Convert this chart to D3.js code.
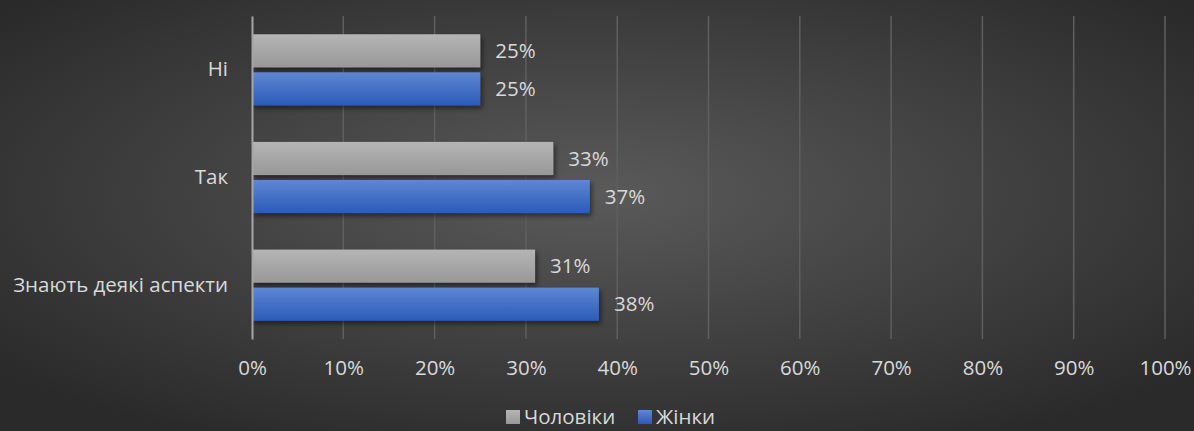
<!DOCTYPE html>
<html>
<head>
<meta charset="utf-8">
<script src="https://cdn.jsdelivr.net/npm/d3@7"></script>
<style>
  html, body { margin: 0; padding: 0; background: #333; }
  svg { display: block; font-family: "Open Sans", sans-serif; }
</style>
</head>
<body>
<svg id="chart" width="1194" height="431"></svg>
<script>
// categories top to bottom
var categories = ["Ні", "Так", "Знають деякі аспекти"];
var seriesNames = ["Чоловіки", "Жінки"];
var men = [0.25, 0.33, 0.31];
var women = [0.25, 0.37, 0.38];
var ticks = [0, 0.1, 0.2, 0.3, 0.4, 0.5, 0.6, 0.7, 0.8, 0.9, 1.0];

var W = 1194, H = 431;
var margin = {top: 16, right: 29, bottom: 92, left: 252};
var width = W - margin.left - margin.right,
  height = H - margin.top - margin.bottom;
var FONT = "'Open Sans', sans-serif";
var FS = "20.5px";
var TXT = "#d9d9d9";

var svg = d3.select("#chart");
var defs = svg.append("defs");

// background
var bg = defs.append("radialGradient").attr("id", "bg")
  .attr("cx", "50%").attr("cy", "45%").attr("r", "65%");
bg.append("stop").attr("offset", "0%").attr("stop-color", "#5a5a5a");
bg.append("stop").attr("offset", "100%").attr("stop-color", "#2a2a2a");
svg.append("rect").attr("width", W).attr("height", H).attr("fill", "url(#bg)");

var gGray = defs.append("linearGradient").attr("id", "gGray")
  .attr("x1", 0).attr("y1", 0).attr("x2", 0).attr("y2", 1);
gGray.append("stop").attr("offset", "0%").attr("stop-color", "#b5b5b5");
gGray.append("stop").attr("offset", "100%").attr("stop-color", "#989898");
var gBlue = defs.append("linearGradient").attr("id", "gBlue")
  .attr("x1", 0).attr("y1", 0).attr("x2", 0).attr("y2", 1);
gBlue.append("stop").attr("offset", "0%").attr("stop-color", "#5e87d3");
gBlue.append("stop").attr("offset", "100%").attr("stop-color", "#2b5bb8");

var shadow = defs.append("filter").attr("id", "shadow")
  .attr("x", "-5%").attr("y", "-20%").attr("width", "115%").attr("height", "160%");
shadow.append("feDropShadow").attr("dx", 2).attr("dy", 3)
  .attr("stdDeviation", 2.5).attr("flood-color", "#000").attr("flood-opacity", 0.5);

var g = svg.append("g").attr("transform", "translate(" + margin.left + "," + margin.top + ")");

var x = d3.scaleLinear().domain([0, 1]).range([0, width]);
var y = d3.scaleBand().domain(categories).range([0, height]);
var yInner = d3.scaleBand().domain(seriesNames).range([0, y.bandwidth()])
  .paddingOuter(0.48).paddingInner(0.13);

// gridlines
g.selectAll(".grid").data(ticks.slice(1)).enter().append("line")
  .attr("x1", function (d) { return x(d); })
  .attr("x2", function (d) { return x(d); })
  .attr("y1", 0).attr("y2", height)
  .attr("stroke", "#5f5f5f").attr("stroke-width", 1.5);

// x axis labels
var xAxis = g.append("g").attr("transform", "translate(0," + height + ")")
  .call(d3.axisBottom(x).tickValues(ticks).tickFormat(d3.format(".0%")).tickSize(0).tickPadding(21));
xAxis.select(".domain").remove();
xAxis.selectAll("text").attr("fill", TXT).style("font-size", FS).style("font-family", FONT);

// bars
var data = [];
categories.forEach(function (c, i) {
  data.push({cat: c, s: seriesNames[0], v: men[i], fill: "url(#gGray)"});
  data.push({cat: c, s: seriesNames[1], v: women[i], fill: "url(#gBlue)"});
});

g.selectAll(".bar").data(data).enter().append("rect")
  .attr("x", 0)
  .attr("y", function (d) { return y(d.cat) + yInner(d.s); })
  .attr("width", function (d) { return x(d.v); })
  .attr("height", yInner.bandwidth())
  .attr("fill", function (d) { return d.fill; })
  .attr("filter", "url(#shadow)");

g.selectAll(".val").data(data).enter().append("text")
  .attr("x", function (d) { return x(d.v) + 15; })
  .attr("y", function (d) { return y(d.cat) + yInner(d.s) + yInner.bandwidth() / 2; })
  .attr("dy", "0.35em")
  .attr("fill", TXT).style("font-size", FS)
  .text(function (d) { return d3.format(".0%")(d.v); });

// y axis
var yAxis = g.append("g")
  .call(d3.axisLeft(y).tickSize(0).tickPadding(24));
yAxis.select(".domain").attr("stroke", "#a6a6a6").attr("stroke-width", 2);
yAxis.selectAll("text").attr("fill", TXT).style("font-size", FS).style("font-family", FONT);

// legend, kept just inside the bottom edge
var legend = svg.append("g").attr("transform", "translate(506,410)");
var legItems = [
  {name: seriesNames[0], fill: "url(#gGray)", x: 0},
  {name: seriesNames[1], fill: "url(#gBlue)", x: 132}
];
var li = legend.selectAll("g").data(legItems).enter().append("g")
  .attr("transform", function (d) { return "translate(" + d.x + ",0)"; });
li.append("rect").attr("width", 14).attr("height", 14).attr("fill", function (d) { return d.fill; });
li.append("text").attr("x", 18).attr("y", 14)
  .attr("fill", TXT).style("font-size", FS)
  .text(function (d) { return d.name; });
</script>
</body>
</html>
